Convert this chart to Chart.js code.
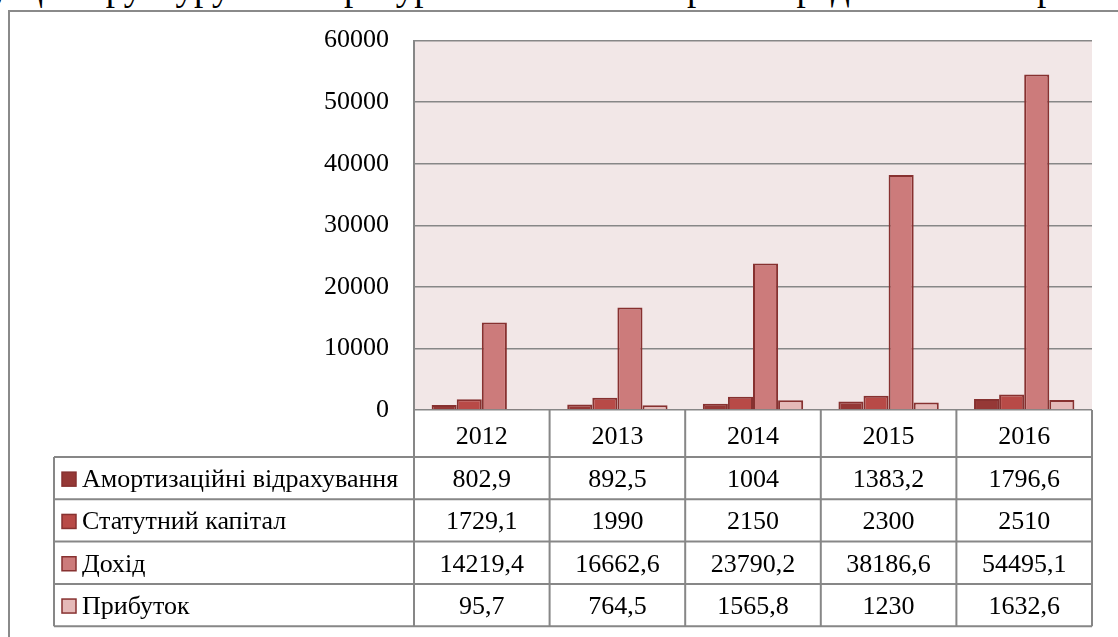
<!DOCTYPE html>
<html>
<head>
<meta charset="utf-8">
<script src="https://cdn.jsdelivr.net/npm/chart.js@4.4.1/dist/chart.umd.min.js"></script>
<style>
  html, body { margin: 0; padding: 0; background: #fff; overflow: hidden; }
  #wrap { position: relative; width: 1118px; height: 637px; overflow: hidden; }
  #para { position: absolute; left: -6px; top: -33px; line-height: 42px; white-space: nowrap;
          font-family: "Liberation Serif", serif; font-size: 37px; color: #000; word-spacing: 2px; }
  #frame { position: absolute; left: 8px; top: 10px; width: 1200px; height: 700px;
           border-left: 2px solid #8a8a8a; border-top: 2px solid #8a8a8a; box-sizing: border-box; background: transparent; }
  #probe { position: absolute; left: -2000px; top: 0; font-family: "Liberation Serif"; font-size: 26px; }
  canvas { position: absolute; left: 0; top: 0; }
</style>
</head>
<body>
<div id="wrap">
  <div id="para">, що структуруваннямресурсів ГОВ "Мангарама"представимо на рис. 2.</div>
  <div id="frame"></div>
  <div id="probe">Амортизаційні 0123456789</div>
  <canvas id="c" width="1118" height="637"></canvas>
</div>
<script>
const categories = ["2012", "2013", "2014", "2015", "2016"];
const seriesNames = ["Амортизаційні відрахування", "Статутний капітал", "Дохід", "Прибуток"];
const amortization = [802.9, 892.5, 1004, 1383.2, 1796.6];
const charterCapital = [1729.1, 1990, 2150, 2300, 2510];
const income = [14219.4, 16662.6, 23790.2, 38186.6, 54495.1];
const profit = [95.7, 764.5, 1565.8, 1230, 1632.6];
const yTicks = [0, 10000, 20000, 30000, 40000, 50000, 60000];

const fills = ["#953836", "#b84a47", "#cc7b7b", "#e5b9b8"];
const borderCol = "#873130";
const FONT = '"Liberation Serif"';
const gridCol = "#878787";

const seriesData = [amortization, charterCapital, income, profit];

function fmt(v) { return String(v).replace('.', ','); }

const bgPlugin = {
  id: 'plotBg',
  beforeDraw(chart) {
    const {ctx, chartArea: a} = chart;
    ctx.save();
    ctx.fillStyle = "#f2e7e7";
    ctx.fillRect(a.left, a.top, a.right - a.left, a.bottom - a.top);
    ctx.restore();
  }
};

const tablePlugin = {
  id: 'dataTable',
  afterDraw(chart) {
    const {ctx, chartArea: a} = chart;
    const n = categories.length;
    const colW = (a.right - a.left) / n;
    const tableLeft = 54;
    const headerH = 47;
    const rowH = 42.3;
    const top = a.bottom;
    const rowsTop = top + headerH;
    const bottom = rowsTop + rowH * seriesNames.length;
    ctx.save();
    ctx.strokeStyle = gridCol;
    ctx.lineWidth = 2;
    ctx.beginPath();
    for (let i = 0; i <= n; i++) {
      const x = a.left + colW * i;
      ctx.moveTo(x, top); ctx.lineTo(x, bottom);
    }
    ctx.moveTo(tableLeft, rowsTop); ctx.lineTo(tableLeft, bottom);
    for (let r = 0; r <= seriesNames.length; r++) {
      const y = rowsTop + rowH * r;
      ctx.moveTo(tableLeft, y); ctx.lineTo(a.right, y);
    }
    ctx.stroke();

    ctx.fillStyle = "#000";
    ctx.font = "26px " + FONT + ", serif";
    ctx.textBaseline = "middle";
    ctx.textAlign = "center";
    const xs = chart.scales.x;
    categories.forEach((c, i) => {
      ctx.fillText(c, xs.getPixelForValue(i), top + headerH / 2 + 4);
    });
    seriesNames.forEach((name, r) => {
      const cy = rowsTop + rowH * r + rowH / 2 + 2;
      ctx.fillStyle = fills[r];
      ctx.fillRect(62, cy - 8, 14, 14);
      ctx.strokeStyle = borderCol;
      ctx.lineWidth = 1.5;
      ctx.strokeRect(62, cy - 8, 14, 14);
      ctx.fillStyle = "#000";
      ctx.textAlign = "left";
      ctx.fillText(name, 82, cy);
      ctx.textAlign = "center";
      seriesData[r].forEach((v, i) => {
        ctx.fillText(fmt(v), xs.getPixelForValue(i), cy);
      });
    });
    ctx.restore();
  }
};

function build() {
  new Chart(document.getElementById('c'), {
    type: 'bar',
    data: {
      labels: categories,
      datasets: seriesNames.map((name, i) => ({
        label: name,
        data: seriesData[i],
        backgroundColor: fills[i],
        borderColor: borderCol,
        borderWidth: 2,
        categoryPercentage: 0.74,
        barPercentage: 1.0
      }))
    },
    options: {
      responsive: false,
      animation: false,
      devicePixelRatio: 1,
      layout: { padding: { top: 40, right: 26, bottom: 227, left: 0 } },
      plugins: { legend: { display: false }, tooltip: { enabled: false }, title: { display: false } },
      scales: {
        x: { display: false },
        y: {
          min: 0, max: 60000,
          afterBuildTicks(scale) { scale.ticks = yTicks.map(v => ({ value: v })); },
          afterFit(scale) { scale.width = 414; },
          ticks: { font: { family: '"Liberation Serif", serif', size: 26 }, color: "#000", padding: 25,
                   callback: v => String(v) },
          grid: { color: gridCol, lineWidth: 1.5, drawTicks: false },
          border: { display: true, color: gridCol, width: 2 }
        }
      }
    },
    plugins: [bgPlugin, tablePlugin]
  });
}

Promise.all([
  document.fonts.load('26px "Liberation Serif"', 'Амортизаційні 0123'),
  document.fonts.ready
]).then(build, build);
</script>
</body>
</html>
